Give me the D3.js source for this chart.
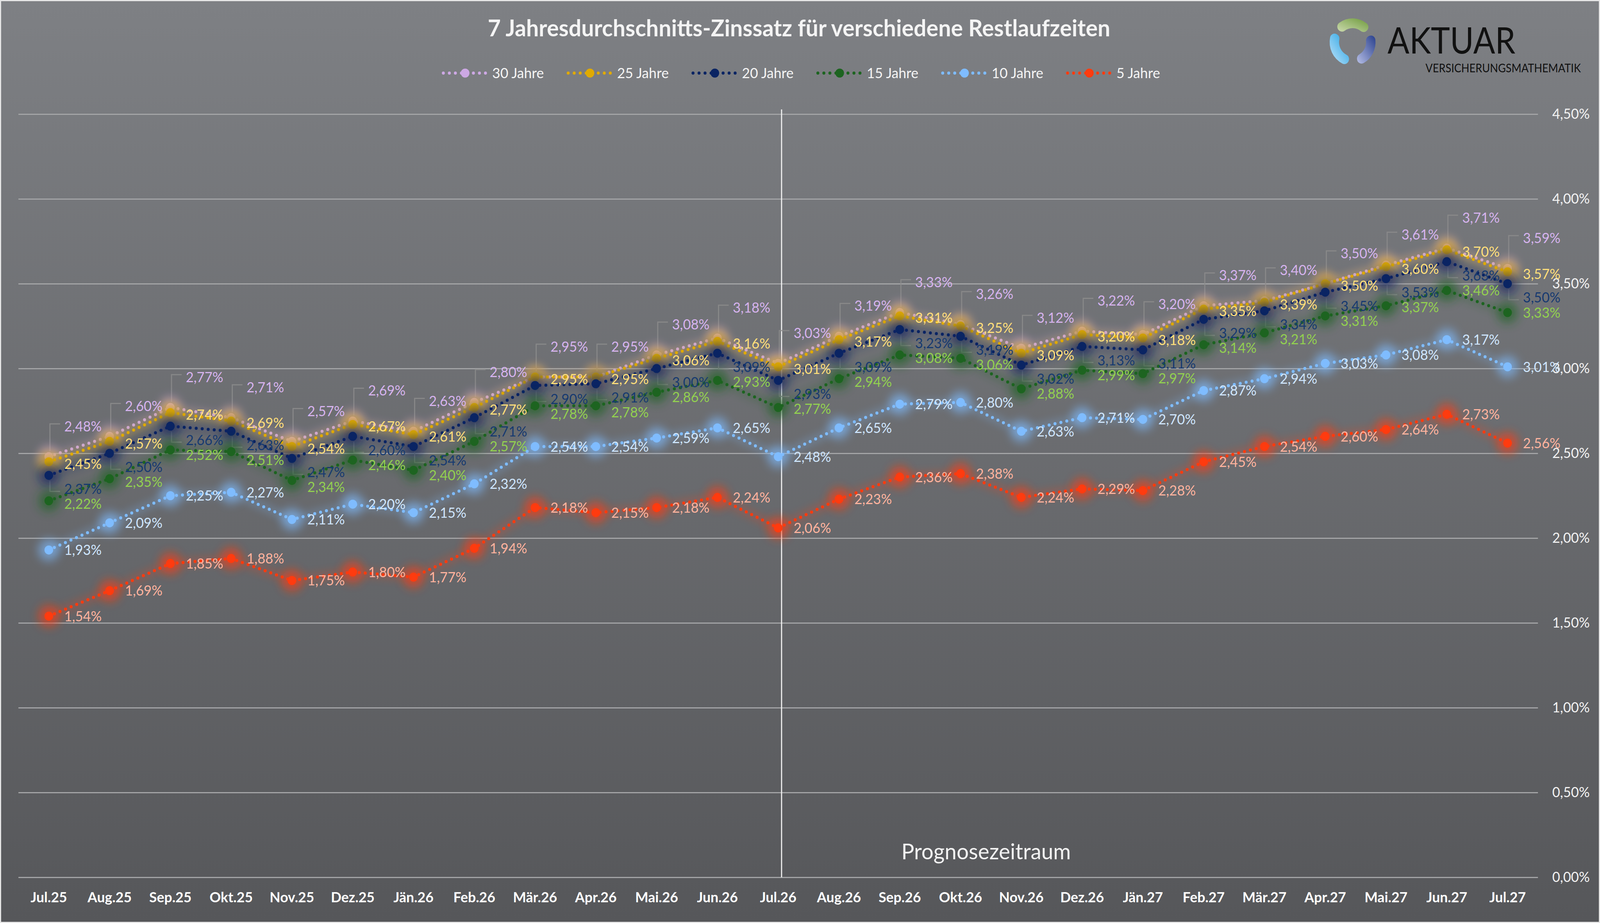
<!DOCTYPE html>
<html>
<head>
<meta charset="utf-8">
<script src="https://cdn.jsdelivr.net/npm/d3@7"></script>
<style>
  html, body { margin: 0; padding: 0; background: #e6e6e6; overflow: hidden; width: 100%; height: 100%; }
  #chart, svg { display: block; width: 100vw; height: 100vh; }
  text { font-family: Lato, "Open Sans", sans-serif; }
</style>
</head>
<body>
<div id="chart"></div>
<script>
// Daten
const months = ["Jul.25","Aug.25","Sep.25","Okt.25","Nov.25","Dez.25","Jän.26","Feb.26","Mär.26","Apr.26","Mai.26","Jun.26",
  "Jul.26","Aug.26","Sep.26","Okt.26","Nov.26","Dez.26","Jän.27","Feb.27","Mär.27","Apr.27","Mai.27","Jun.27","Jul.27"];

const rate30 = [2.48,2.60,2.77,2.71,2.57,2.69,2.63,2.80,2.95,2.95,3.08,3.18,3.03,3.19,3.33,3.26,3.12,3.22,3.20,3.37,3.40,3.50,3.61,3.71,3.59];
const rate25 = [2.45,2.57,2.74,2.69,2.54,2.67,2.61,2.77,2.95,2.95,3.06,3.16,3.01,3.17,3.31,3.25,3.09,3.20,3.18,3.35,3.39,3.50,3.60,3.70,3.57];
const rate20 = [2.37,2.50,2.66,2.63,2.47,2.60,2.54,2.71,2.90,2.91,3.00,3.09,2.93,3.09,3.23,3.19,3.02,3.13,3.11,3.29,3.34,3.45,3.53,3.63,3.50];
const rate15 = [2.22,2.35,2.52,2.51,2.34,2.46,2.40,2.57,2.78,2.78,2.86,2.93,2.77,2.94,3.08,3.06,2.88,2.99,2.97,3.14,3.21,3.31,3.37,3.46,3.33];
const rate10 = [1.93,2.09,2.25,2.27,2.11,2.20,2.15,2.32,2.54,2.54,2.59,2.65,2.48,2.65,2.79,2.80,2.63,2.71,2.70,2.87,2.94,3.03,3.08,3.17,3.01];
const rate5  = [1.54,1.69,1.85,1.88,1.75,1.80,1.77,1.94,2.18,2.15,2.18,2.24,2.06,2.23,2.36,2.38,2.24,2.29,2.28,2.45,2.54,2.60,2.64,2.73,2.56];

const seriesNames = ["30 Jahre","25 Jahre","20 Jahre","15 Jahre","10 Jahre","5 Jahre"];
const yTicks = [0,0.5,1,1.5,2,2.5,3,3.5,4,4.5];
const forecastStart = "Jul.26";
const chartTitle = "7 Jahresdurchschnitts-Zinssatz für verschiedene Restlaufzeiten";

// Stil je Reihe
const seriesStyle = [
  { color: "#cda8e4", label: "#d6b3ee", dy: -78 },
  { color: "#e0aa00", label: "#ffdf7a", dy: 5 },
  { color: "#0a2463", label: "#173a70", dy: 35 },
  { color: "#1d6420", label: "#92d050", dy: 0 },
  { color: "#7fbcff", label: "#cfe6ff", dy: 0 },
  { color: "#ff3b0f", label: "#ffb39e", dy: 0 }
];
const seriesValues = [rate30, rate25, rate20, rate15, rate10, rate5];
const series = seriesNames.map((name, k) => Object.assign({ name, values: seriesValues[k] }, seriesStyle[k]));

const W = 4255, H = 2362;
const plot = { left: 49, right: 4090, top: 292, bottom: 2245 };

const svg = d3.select("#chart").append("svg")
  .attr("viewBox", `0 0 ${W} ${H}`)
  .attr("preserveAspectRatio", "none");
const defs = svg.append("defs");

const bg = defs.append("linearGradient").attr("id", "bg")
  .attr("x1", 0).attr("y1", 0).attr("x2", 0).attr("y2", 1);
bg.append("stop").attr("offset", "0%").attr("stop-color", "#7e8084");
bg.append("stop").attr("offset", "100%").attr("stop-color", "#56575a");

const glow = defs.append("filter").attr("id", "glow")
  .attr("x", "-150%").attr("y", "-150%").attr("width", "400%").attr("height", "400%");
glow.append("feGaussianBlur").attr("stdDeviation", 12);

const lineGlow = defs.append("filter").attr("id", "lineGlow")
  .attr("filterUnits", "userSpaceOnUse")
  .attr("x", 0).attr("y", 0).attr("width", W).attr("height", H);
lineGlow.append("feGaussianBlur").attr("stdDeviation", 10);

svg.append("rect")
  .attr("x", 3).attr("y", 3).attr("width", W - 6).attr("height", H - 6)
  .attr("fill", "url(#bg)");

const x = d3.scaleBand().domain(months).range([plot.left, plot.right]).padding(0);
const cx = m => x(m) + x.bandwidth() / 2;
const y = d3.scaleLinear().domain([0, 4.5]).range([plot.bottom, plot.top]);

const fmt = v => d3.format(".2f")(v).replace(".", ",") + "%";

// Gitter + rechte Achse
const yAxis = svg.append("g")
  .attr("transform", `translate(${plot.right},0)`)
  .call(d3.axisRight(y).tickValues(yTicks).tickSize(-(plot.right - plot.left)).tickPadding(38).tickFormat(fmt));
yAxis.select(".domain").remove();
yAxis.selectAll("line").attr("stroke", "#a3a4a6").attr("stroke-width", 3);
yAxis.selectAll("text")
  .attr("fill", "#f2f2f2")
  .style("font-family", "Lato, sans-serif")
  .style("font-size", "36px");

// X-Achse
const xAxis = svg.append("g")
  .attr("transform", `translate(0,${plot.bottom})`)
  .call(d3.axisBottom(x).tickSize(0).tickPadding(38));
xAxis.select(".domain").remove();
xAxis.selectAll("text")
  .attr("fill", "#ffffff")
  .style("font-family", "Lato, sans-serif")
  .style("font-weight", 700)
  .style("font-size", "37px");

// Prognose-Linie
const fx = cx(forecastStart) + 9;
svg.append("line")
  .attr("x1", fx).attr("x2", fx)
  .attr("y1", y(4.5) - 12).attr("y2", plot.bottom)
  .attr("stroke", "#f0f0f0").attr("stroke-width", 3);

svg.append("text")
  .attr("x", fx + 544).attr("y", 2199)
  .attr("text-anchor", "middle")
  .attr("fill", "#f2f2f2")
  .style("font-size", "57px")
  .text("Prognosezeitraum");

// Label-Positionen (einfache Kollisionsvermeidung je Monat)
const labels = [];
months.forEach((m, i) => {
  const col = series.map((s, k) => ({
    k, v: s.values[i], px: cx(m), py: y(s.values[i]), ly: y(s.values[i]) + s.dy
  }));
  col.sort((a, b) => a.ly - b.ly);
  for (let j = 1; j < col.length; j++) {
    if (col[j].ly < col[j - 1].ly + 38) col[j].ly = col[j - 1].ly + 38;
  }
  labels.push(...col);
});

// Führungslinien
svg.append("g")
  .selectAll("path")
  .data(labels.filter(d => Math.abs(d.ly - d.py) > 24))
  .join("path")
  .attr("d", d => {
    const up = d.ly < d.py;
    return `M${d.px + 3},${d.py + (up ? -14 : 14)}V${d.ly + (up ? -6 : 6)}H${d.px + 30}`;
  })
  .attr("fill", "none")
  .attr("stroke", "#8c8c8c")
  .attr("stroke-width", 3)
  .attr("opacity", 0.85);

// Reihen
const lineGen = d3.line().x((d, i) => cx(months[i])).y(d => y(d));

series.forEach(s => {
  const g = svg.append("g");
  g.append("path")
    .datum(s.values)
    .attr("d", lineGen)
    .attr("fill", "none")
    .attr("stroke", s.color)
    .attr("stroke-width", 22)
    .attr("opacity", 0.22)
    .attr("filter", "url(#lineGlow)");
  g.append("path")
    .datum(s.values)
    .attr("d", lineGen)
    .attr("fill", "none")
    .attr("stroke", s.color)
    .attr("stroke-width", 8)
    .attr("stroke-linecap", "round")
    .attr("stroke-dasharray", "0 16");
  g.selectAll("circle.glow")
    .data(s.values)
    .join("circle")
    .attr("class", "glow")
    .attr("cx", (d, i) => cx(months[i]))
    .attr("cy", d => y(d))
    .attr("r", 28)
    .attr("fill", s.color)
    .attr("opacity", 0.6)
    .attr("filter", "url(#glow)");
  g.selectAll("circle.marker")
    .data(s.values)
    .join("circle")
    .attr("class", "marker")
    .attr("cx", (d, i) => cx(months[i]))
    .attr("cy", d => y(d))
    .attr("r", 11.5)
    .attr("fill", s.color);
});

// Datenbeschriftungen
svg.append("g")
  .selectAll("text")
  .data(labels)
  .join("text")
  .attr("x", d => d.px + 41)
  .attr("y", d => d.ly)
  .attr("dy", "0.36em")
  .attr("fill", d => series[d.k].label)
  .style("font-size", "36px")
  .text(d => fmt(d.v));

// Titel
const title = svg.append("text")
  .attr("x", 2125).attr("y", 93)
  .attr("text-anchor", "middle")
  .attr("fill", "#f4f4f4")
  .style("font-weight", 700)
  .style("font-size", "46px")
  .text(chartTitle);
const tw = title.node().getComputedTextLength();
title.style("font-size", (46 * 1655 / tw) + "px");

// Legende
series.forEach((s, k) => {
  const g = svg.append("g").attr("transform", `translate(${1237 + k * 332},187)`);
  g.append("line")
    .attr("x1", -58).attr("x2", 56)
    .attr("stroke", s.color)
    .attr("stroke-width", 8)
    .attr("stroke-linecap", "round")
    .attr("stroke-dasharray", "0 16");
  g.append("circle").attr("r", 11.5).attr("fill", s.color);
  g.append("text")
    .attr("x", 72).attr("dy", "0.36em")
    .attr("fill", "#f4f4f4")
    .style("font-size", "37px")
    .text(s.name);
});

// Logo
const logo = svg.append("g").attr("transform", "translate(3597,108)");
const logoParts = [
  { a0: -50, a1: 52, c0: "#cddbb0", c1: "#6e9a3c", id: "lgG" },
  { a0: 70, a1: 165, c0: "#b7bfe6", c1: "#283f8c", id: "lgR" },
  { a0: 192, a1: 296, c0: "#c3e4fa", c1: "#1b9fe2", id: "lgL" }
];
const arc = d3.arc().innerRadius(36).outerRadius(61).cornerRadius(12);
logoParts.forEach(p => {
  const lg = defs.append("linearGradient").attr("id", p.id)
    .attr("x1", 0).attr("y1", 1).attr("x2", 1).attr("y2", 0);
  lg.append("stop").attr("offset", "0%").attr("stop-color", p.c0);
  lg.append("stop").attr("offset", "100%").attr("stop-color", p.c1);
  logo.append("path")
    .attr("d", arc({ startAngle: p.a0 * Math.PI / 180, endAngle: p.a1 * Math.PI / 180 }))
    .attr("fill", `url(#${p.id})`);
});
svg.append("text")
  .attr("x", 3690).attr("y", 137)
  .attr("fill", "#111")
  .attr("textLength", 340).attr("lengthAdjust", "spacingAndGlyphs")
  .style("font-size", "94px")
  .text("AKTUAR");
svg.append("text")
  .attr("x", 3791).attr("y", 185)
  .attr("fill", "#111")
  .attr("textLength", 413).attr("lengthAdjust", "spacingAndGlyphs")
  .style("font-size", "31px")
  .text("VERSICHERUNGSMATHEMATIK");
</script>
</body>
</html>
